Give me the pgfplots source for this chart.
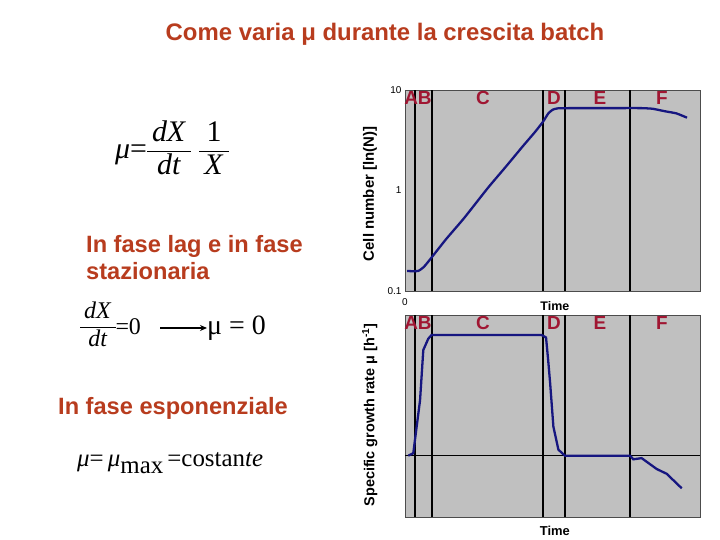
\documentclass[border=0pt]{standalone}
\usepackage{amsmath}
\usepackage{pgfplots}
\pgfplotsset{compat=1.18}
\usepackage{fontspec}
\setmainfont{Liberation Sans}
\newfontfamily\tms{Liberation Serif}
\usetikzlibrary{arrows.meta}
\definecolor{ttl}{RGB}{184,60,30}
\definecolor{ph}{RGB}{160,22,50}
\definecolor{crv}{RGB}{22,22,128}
\definecolor{bgc}{RGB}{192,192,192}
\newcommand\fr[2]{\ensuremath{\vcenter{\hbox{\setlength\arrayrulewidth{0.7pt}\renewcommand\arraystretch{0.85}\begin{tabular}{@{}c@{}}\,#1\,\\[1.5pt]\hline\noalign{\vskip2pt}\,#2\,\end{tabular}}}}}
\begin{document}
\begin{tikzpicture}[x=1bp,y=1bp]
\useasboundingbox[fill=white] (0,0) rectangle (720,540);
% title
\node[font=\fontsize{24}{28}\selectfont\bfseries, text=ttl] at (385,506) {Come varia μ durante la crescita batch};
% left side text
\node[font=\fontsize{23.7}{27}\selectfont\bfseries, text=ttl, align=left, anchor=north west, inner sep=0pt] at (86,305) {In fase lag e in fase\\stazionaria};
\node[font=\fontsize{23.7}{27}\selectfont\bfseries, text=ttl, anchor=west, inner sep=0pt] at (58,132) {In fase esponenziale};
% formulas
\node[font=\fontsize{30}{34}\selectfont\tms, anchor=west, inner sep=0pt] at (115,388) {\textit{μ}=\fr{\textit{dX}}{\textit{dt}}\;\fr{1}{\textit{X}}};
\node[font=\fontsize{24}{28}\selectfont\tms, anchor=west, inner sep=0pt] at (80,212) {\fr{\textit{dX}}{\textit{dt}}=0};
\draw[-{Stealth[length=7bp,width=6bp]}, line width=1.1bp] (160,212) -- (207,212);
\node[font=\fontsize{28}{32}\selectfont\tms, anchor=west, inner sep=0pt] at (207,212) {μ = 0};
\node[font=\fontsize{25}{29}\selectfont\tms, anchor=base west, inner sep=0pt] at (77,73) {\textit{μ}=\,\textit{μ}\raisebox{-0.25em}{max}\,=costan\textit{te}};
% top axis
\begin{axis}[at={(405bp,249bp)}, anchor=south west, scale only axis,
  width=295bp, height=201bp, xmin=0, xmax=100, ymode=log, ymin=0.1, ymax=10,
  axis background/.style={fill=bgc},
  axis line style={draw=gray!60!black, line width=0.6pt},
  xtick={0}, xticklabels={0}, ytick={0.1,1,10}, yticklabels={0.1,1,10},
  tick style={draw=none},
  ticklabel style={font=\fontsize{10}{12}\selectfont},
  xticklabel style={yshift=-4bp},
  xlabel={Time}, xlabel style={font=\fontsize{12.5}{14}\selectfont\bfseries, at={(axis description cs:0.508,0)}, anchor=center, yshift=-15bp},
  ylabel={Cell number [ln(N)]}, ylabel style={font=\fontsize{15}{17}\selectfont\bfseries, at={(axis description cs:-0.119,0.483)}, anchor=center},
  clip=false]
\addplot[black, line width=1.4pt] coordinates {(3.4,0.1)(3.4,10)};
\addplot[black, line width=1.4pt] coordinates {(9.2,0.1)(9.2,10)};
\addplot[black, line width=1.4pt] coordinates {(46.8,0.1)(46.8,10)};
\addplot[black, line width=1.4pt] coordinates {(54.2,0.1)(54.2,10)};
\addplot[black, line width=1.4pt] coordinates {(76.3,0.1)(76.3,10)};
\addplot[crv, line width=2.3pt, smooth, tension=0.3] coordinates {
(0.7,0.158)(4.4,0.158)(6.5,0.175)(9.2,0.219)(14,0.33)(20,0.53)(28.2,1.07)(34,1.7)(40,2.77)(44,3.8)(46.8,4.84)(48.5,5.8)(50,6.35)(52,6.58)(60,6.6)(70,6.6)(80,6.6)(84,6.5)(88,6.15)(92,5.85)(95.6,5.3)};
\node[font=\fontsize{19}{22}\selectfont\bfseries, text=ph] at (axis cs:4.4,8.3) {AB};
\node[font=\fontsize{19}{22}\selectfont\bfseries, text=ph] at (axis cs:26.4,8.3) {C};
\node[font=\fontsize{19}{22}\selectfont\bfseries, text=ph] at (axis cs:50.5,8.3) {D};
\node[font=\fontsize{19}{22}\selectfont\bfseries, text=ph] at (axis cs:66.1,8.3) {E};
\node[font=\fontsize{19}{22}\selectfont\bfseries, text=ph] at (axis cs:87.1,8.3) {F};
\end{axis}
% bottom axis
\begin{axis}[at={(405bp,23bp)}, anchor=south west, scale only axis,
  width=295bp, height=202bp, xmin=0, xmax=100, ymin=-0.508, ymax=1.166,
  axis background/.style={fill=bgc},
  axis line style={draw=gray!60!black, line width=0.6pt},
  xtick=\empty, ytick=\empty,
  xlabel={Time}, xlabel style={font=\fontsize{13}{15}\selectfont\bfseries, at={(axis description cs:0.508,0)}, anchor=center, yshift=-14bp, inner sep=1pt},
  ylabel={Specific growth rate μ [h\textsuperscript{-1}]}, ylabel style={font=\fontsize{14.5}{17}\selectfont\bfseries, at={(axis description cs:-0.119,0.505)}, anchor=center},
  clip=false]
\addplot[black, line width=1.4pt] coordinates {(3.4,-0.508)(3.4,1.166)};
\addplot[black, line width=1.4pt] coordinates {(9.2,-0.508)(9.2,1.166)};
\addplot[black, line width=1.4pt] coordinates {(46.8,-0.508)(46.8,1.166)};
\addplot[black, line width=1.4pt] coordinates {(54.2,-0.508)(54.2,1.166)};
\addplot[black, line width=1.4pt] coordinates {(76.3,-0.508)(76.3,1.166)};
\addplot[black, line width=1.4pt] coordinates {(0,0)(100,0)};
\addplot[crv, line width=2.3pt] coordinates {
(1.1,0)(2.8,0.02)(4.0,0.25)(5.1,0.46)(6.2,0.876)(7.9,0.97)(9.0,1)(46.3,1)(47.8,0.98)(48.5,0.8)(49.2,0.6)(50.3,0.24)(52.0,0.05)(54.2,0)(76.3,0)(77.4,-0.03)(80.2,-0.02)(85.3,-0.11)(88.7,-0.15)(93.8,-0.27)};
\node[font=\fontsize{19}{22}\selectfont\bfseries, text=ph] at (axis cs:4.4,1.10) {AB};
\node[font=\fontsize{19}{22}\selectfont\bfseries, text=ph] at (axis cs:26.4,1.10) {C};
\node[font=\fontsize{19}{22}\selectfont\bfseries, text=ph] at (axis cs:50.5,1.10) {D};
\node[font=\fontsize{19}{22}\selectfont\bfseries, text=ph] at (axis cs:66.1,1.10) {E};
\node[font=\fontsize{19}{22}\selectfont\bfseries, text=ph] at (axis cs:87.1,1.10) {F};
\end{axis}
\end{tikzpicture}
\end{document}
